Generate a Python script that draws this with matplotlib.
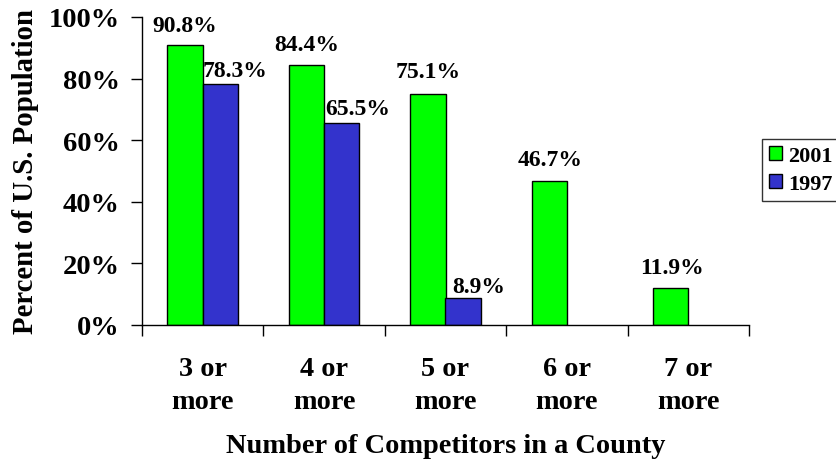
import matplotlib.pyplot as plt
import numpy as np

# data
categories = ['3 or\nmore', '4 or\nmore', '5 or\nmore', '6 or\nmore', '7 or\nmore']
pct_2001 = [90.8, 84.4, 75.1, 46.7, 11.9]
pct_1997 = [78.3, 65.5, 8.9, None, None]

plt.rcParams['font.family'] = ['Liberation Serif', 'DejaVu Serif']
plt.rcParams['font.weight'] = 'bold'

GREEN = '#00ff00'
BLUE = '#3333cc'

fig = plt.figure(figsize=(8.36, 4.64), dpi=100)
ax = fig.add_axes([142 / 836, 1 - 326 / 464, 607 / 836, 308 / 464])

x = np.arange(len(categories))
w = 0.29
g = ax.bar(x - w / 2, pct_2001, w, color=GREEN, edgecolor='black', linewidth=1, label='2001')
has97 = [i for i, v in enumerate(pct_1997) if v is not None]
b = ax.bar(x[has97] + w / 2, [pct_1997[i] for i in has97], w, color=BLUE,
           edgecolor='black', linewidth=1, label='1997')

# label offsets in pixels (dx from bar centre, dy above bar top)
off_2001 = [(0, 20), (0, 21), (0, 22), (1, 22), (1, 21)]
off_1997 = [(15, 13), (16, 15), (16, 11)]
for xi, v, (dx, dy) in zip(x - w / 2, pct_2001, off_2001):
    ax.annotate(f'{v:.1f}%', (xi, v), xytext=(dx, dy), textcoords='offset pixels',
                ha='center', va='center', fontsize=17, fontweight='bold')
for i, (dx, dy) in zip(has97, off_1997):
    v = pct_1997[i]
    ax.annotate(f'{v:.1f}%', (x[i] + w / 2, v), xytext=(dx, dy), textcoords='offset pixels',
                ha='center', va='center', fontsize=17, fontweight='bold')

ax.set_xlim(-0.5, len(categories) - 0.5)
ax.set_ylim(0, 100)
ax.set_yticks(range(0, 101, 20))
ax.set_yticklabels([f'{t}%' for t in range(0, 101, 20)], fontsize=20.5, fontweight='bold')
ax.set_xticks(x)
ax.set_xticklabels(categories, fontsize=20.3, fontweight='bold', linespacing=1.42)
ax.set_xticks(np.arange(len(categories) + 1) - 0.5, minor=True)
ax.tick_params(axis='x', which='major', length=0, pad=22)
ax.tick_params(axis='x', which='minor', length=8, width=1, direction='out')
ax.tick_params(axis='y', length=8, width=1, direction='out', pad=8)

for s in ['top', 'right']:
    ax.spines[s].set_visible(False)
for s in ['left', 'bottom']:
    ax.spines[s].set_linewidth(1)

ax.set_xlabel('Number of Competitors in a County', fontsize=20.4, fontweight='bold', labelpad=14)
ax.set_ylabel('Percent of U.S. Population', fontsize=20.7, fontweight='bold')
ax.yaxis.set_label_coords(-0.170, 0.5)

leg = fig.legend(handles=[g, b], loc='center left', bbox_to_anchor=(762 / 836, 1 - 171 / 464),
                 frameon=True, fancybox=False, edgecolor='black', borderaxespad=0,
                 handlelength=0.59, handleheight=0.59, handletextpad=0.3, borderpad=0.3,
                 labelspacing=0.35, prop={'weight': 'bold', 'size': 16})
leg.get_frame().set_linewidth(1)

fig.savefig('out.png', dpi=100)
